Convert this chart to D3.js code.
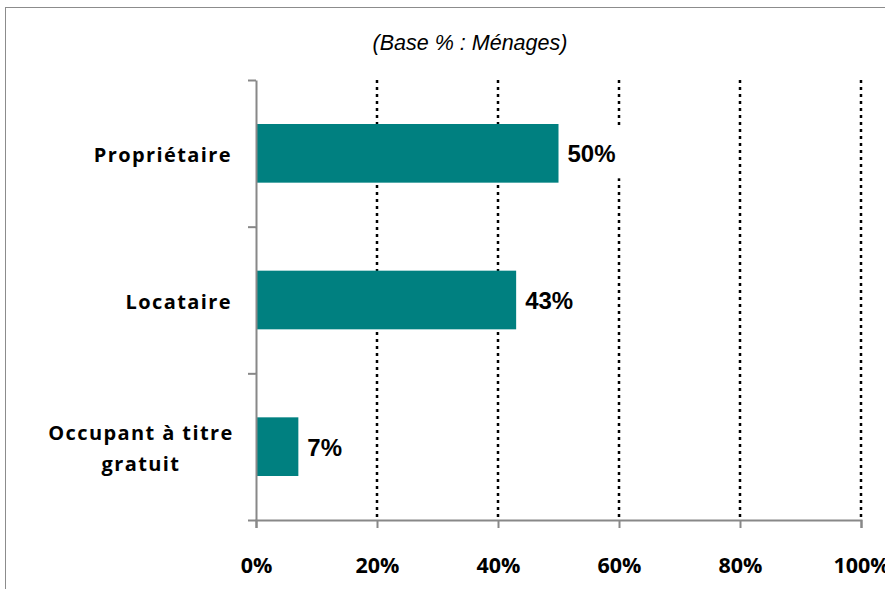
<!DOCTYPE html>
<html><head><meta charset="utf-8">
<script src="https://cdn.jsdelivr.net/npm/d3@7"></script>
<style>body{margin:0;background:#fff}</style>
</head><body>
<svg id="c" width="885" height="589"></svg>
<script>
const categories = ["Propriétaire", "Locataire", "Occupant à titre gratuit"];
const categoryLines = [["Propriétaire"], ["Locataire"], ["Occupant à titre", "gratuit"]];
const values = [50, 43, 7];
const valueLabels = ["50%", "43%", "7%"];
const ticks = [0, 20, 40, 60, 80, 100];
const tickLabels = ["0%", "20%", "40%", "60%", "80%", "100%"];
const title = "(Base % : Ménages)";

const svg = d3.select("#c");
svg.append("rect").attr("x",5.5).attr("y",7.5).attr("width",900).attr("height",600)
  .attr("fill","#fff").attr("stroke","#8c8c8c").attr("stroke-width",1);

const L=256, R=861, T=80, B=520;
const x = d3.scaleLinear().domain([0,100]).range([L,R]);
const y = d3.scaleBand().domain(categories).range([T,B]).paddingInner(0.6).paddingOuter(0.3);

svg.append("text").attr("x",470).attr("y",50).attr("text-anchor","middle")
  .attr("font-family","Liberation Sans, Arial").attr("font-style","italic").attr("font-size",21.5)
  .attr("fill","#000").text(title);

// gridlines
svg.append("g").selectAll("line").data(ticks.slice(1)).join("line")
  .attr("x1",d=>x(d)).attr("x2",d=>x(d)).attr("y1",T).attr("y2",B)
  .attr("stroke","#000").attr("stroke-width",2.5).attr("stroke-dasharray","3,4");

// bars
svg.append("g").selectAll("rect").data(values).join("rect")
  .attr("x",x(0)).attr("y",(d,i)=>y(categories[i]))
  .attr("width",d=>x(d)-x(0)).attr("height",y.bandwidth()).attr("fill","#008080");

// value labels with white background
const vl = svg.append("g").selectAll("g").data(values).join("g");
vl.append("rect").attr("x",d=>x(d)+2).attr("y",(d,i)=>y(categories[i])+y.bandwidth()/2-25)
  .attr("width",(d,i)=>valueLabels[i].length*17+14).attr("height",50).attr("fill","#fff");
vl.append("text").attr("x",d=>x(d)+9).attr("y",(d,i)=>y(categories[i])+y.bandwidth()/2+9)
  .attr("font-family","Liberation Sans, Arial").attr("font-weight","bold").attr("font-size",24)
  .attr("fill","#000").text((d,i)=>valueLabels[i]);

// axes
const ax = d3.axisBottom(x).tickValues(ticks).tickFormat((d,i)=>tickLabels[i]).tickSize(8).tickPadding(30);
const gx = svg.append("g").attr("transform",`translate(0,${B})`).call(ax);
gx.select(".domain").attr("stroke","#888").attr("stroke-width",2);
gx.selectAll(".tick line").attr("stroke","#888").attr("stroke-width",2);
gx.selectAll(".tick text").attr("font-family","Open Sans, sans-serif").attr("font-weight","bold")
  .attr("font-size",21.5).attr("fill","#000");

const ay = d3.scaleLinear().domain([0,3]).range([T,B]);
const gy = svg.append("g").attr("transform",`translate(${L},0)`)
  .call(d3.axisLeft(ay).tickValues([0,1,2,3]).tickFormat("").tickSize(8).tickSizeOuter(0));
gy.select(".domain").attr("stroke","#888").attr("stroke-width",2);
gy.selectAll(".tick line").attr("stroke","#888").attr("stroke-width",2);

// category labels
const cl = svg.append("g").selectAll("text").data(categories).join("text")
  .attr("text-anchor","middle")
  .attr("font-family","Open Sans, sans-serif").attr("font-weight","bold").attr("font-size",20)
  .attr("letter-spacing",1.4).attr("fill","#000");
cl.each(function(d,i){
  const lines = categoryLines[i];
  const cy = y(d)+y.bandwidth()/2;
  const n = lines.length;
  d3.select(this).selectAll("tspan").data(lines).join("tspan")
    .attr("x", n>1 ? 141 : 232)
    .attr("y",(t,j)=>cy+9+(j-(n-1)/2)*31)
    .text(t=>t);
  if(n===1) d3.select(this).attr("text-anchor","end");
});
</script>
</body></html>
